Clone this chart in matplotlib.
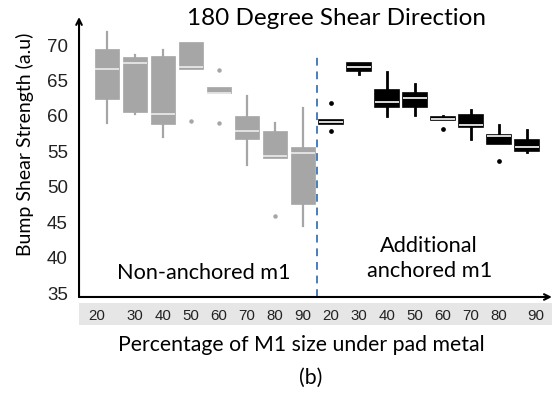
import matplotlib
matplotlib.use("Agg")
import matplotlib.pyplot as plt
from matplotlib.patches import Rectangle
import numpy as np

# Percentage of M1 size under pad metal (same for both groups)
pct = [20, 30, 40, 50, 60, 70, 80, 90]

# Non-anchored m1 (gray boxes)
left_whishi = [71.9, 68.6, 69.3, 70.4, 64.1, 62.8, 58.95, 61.15]
left_q3 = [69.4, 68.3, 68.4, 70.4, 64.1, 60.0, 57.8, 55.65]
left_med = [66.6, 67.4, 60.3, 66.85, 63.3, 57.9, 54.3, 54.7]
left_q1 = [62.4, 60.6, 58.9, 66.6, 63.2, 56.8, 54.0, 47.6]
left_whislo = [59.0, 60.3, 57.0, 66.6, 63.2, 53.1, 54.0, 44.4]
left_fliers = [[], [], [], [59.3], [66.5, 59.0], [], [45.9], []]

# Additional anchored m1 (black boxes)
right_whishi = [59.4, 67.4, 66.2, 64.5, 60.0, 60.8, 58.7, 58.0]
right_q3 = [59.4, 67.4, 63.6, 63.3, 59.8, 60.1, 57.3, 56.6]
right_med = [59.1, 66.9, 61.9, 62.5, 59.6, 58.7, 57.2, 55.6]
right_q1 = [58.8, 66.4, 61.2, 61.3, 59.4, 58.5, 56.0, 55.0]
right_whislo = [58.8, 65.9, 60.0, 60.1, 59.4, 56.7, 56.0, 54.9]
right_fliers = [[61.8, 57.8], [], [], [], [58.2], [], [53.7], []]

yticks = [35, 40, 45, 50, 55, 60, 65, 70]

label_font = ["Lato", "DejaVu Sans"]
tick_font = ["Liberation Sans", "DejaVu Sans"]


def make_stats(q1, med, q3, lo, hi, fl):
    return [dict(q1=a, med=b, q3=c, whislo=d, whishi=e, fliers=f)
            for a, b, c, d, e, f in zip(q1, med, q3, lo, hi, fl)]


fig = plt.figure(figsize=(5.53, 3.93), dpi=100)
ax = fig.add_axes([0.1429, 0.2443, 0.8551, 0.7124])

n = len(pct)
pos_left = np.arange(n)
pos_right = np.arange(n) + n

gray = "#a6a6a6"
ax.bxp(make_stats(left_q1, left_med, left_q3, left_whislo, left_whishi, left_fliers),
       positions=pos_left, widths=0.84, patch_artist=True, showcaps=False,
       boxprops=dict(facecolor=gray, edgecolor=gray, linewidth=0.5),
       whiskerprops=dict(color=gray, linewidth=1.6),
       medianprops=dict(color="#ececec", linewidth=1.2),
       flierprops=dict(marker="o", markersize=2.2, markerfacecolor=gray, markeredgecolor=gray))

ax.bxp(make_stats(right_q1, right_med, right_q3, right_whislo, right_whishi, right_fliers),
       positions=pos_right, widths=0.86, patch_artist=True, showcaps=False,
       boxprops=dict(facecolor="black", edgecolor="black", linewidth=1.2),
       whiskerprops=dict(color="black", linewidth=2),
       medianprops=dict(color="white", linewidth=1.2),
       flierprops=dict(marker="o", markersize=2.4, markerfacecolor="black", markeredgecolor="black"))

# group divider
ax.plot([n - 0.5, n - 0.5], [34.45, 68.4], ls=(0, (4, 3)), color="#4a7ebb", lw=1.4)

ax.set_xlim(-1, 2 * n - 0.1)
ax.set_ylim(34.45, 73.95)

# axes with arrows
for s in ["top", "right", "left", "bottom"]:
    ax.spines[s].set_visible(False)
ax.annotate("", xy=(1.0, 0), xytext=(0, 0), xycoords="axes fraction",
            arrowprops=dict(arrowstyle="->", lw=1.5, color="black", shrinkA=0, shrinkB=0))
ax.annotate("", xy=(0, 1.0), xytext=(0, 0), xycoords="axes fraction",
            arrowprops=dict(arrowstyle="->", lw=1.5, color="black", shrinkA=0, shrinkB=0))

ax.set_yticks(yticks)
ax.set_yticklabels([str(v) for v in yticks], family=tick_font, fontsize=13.5, color="#222222")
ax.tick_params(axis="y", length=0, pad=8)

# shaded strip under the x axis
ax.add_patch(Rectangle((0, -0.1), 1, 0.079, transform=ax.transAxes,
                       facecolor="#e6e6e6", edgecolor="none", clip_on=False, zorder=0))

tick_pos = np.concatenate([pos_left, pos_right]).astype(float)
tick_pos[0] -= 0.36
tick_pos[-1] += 0.32
ax.set_xticks(tick_pos)
ax.set_xticklabels([str(p) for p in pct + pct], family=tick_font, fontsize=10.8, color="#222222")
ax.tick_params(axis="x", length=0, pad=9)

fig.text(0.046, 0.632, "Bump Shear Strength (a.u)", family=label_font, fontsize=14,
         rotation=90, ha="center", va="center")
fig.text(0.545, 0.122, "Percentage of M1 size under pad metal", family=label_font,
         fontsize=15.3, ha="center", va="center")
fig.text(0.561, 0.038, "(b)", family=label_font, fontsize=15.3, ha="center", va="center")
fig.text(0.608, 0.952, "180 Degree Shear Direction", family=label_font, fontsize=17.5,
         ha="center", va="center")

ax.text(0.368, 0.305, "Non-anchored m1", transform=fig.transFigure, family=label_font,
        fontsize=15.6, ha="center", va="center")
ax.text(0.776, 0.343, "Additional\nanchored m1", transform=fig.transFigure, family=label_font,
        fontsize=15.7, ha="center", va="center", linespacing=1.3)

fig.savefig("out.png", dpi=100)
